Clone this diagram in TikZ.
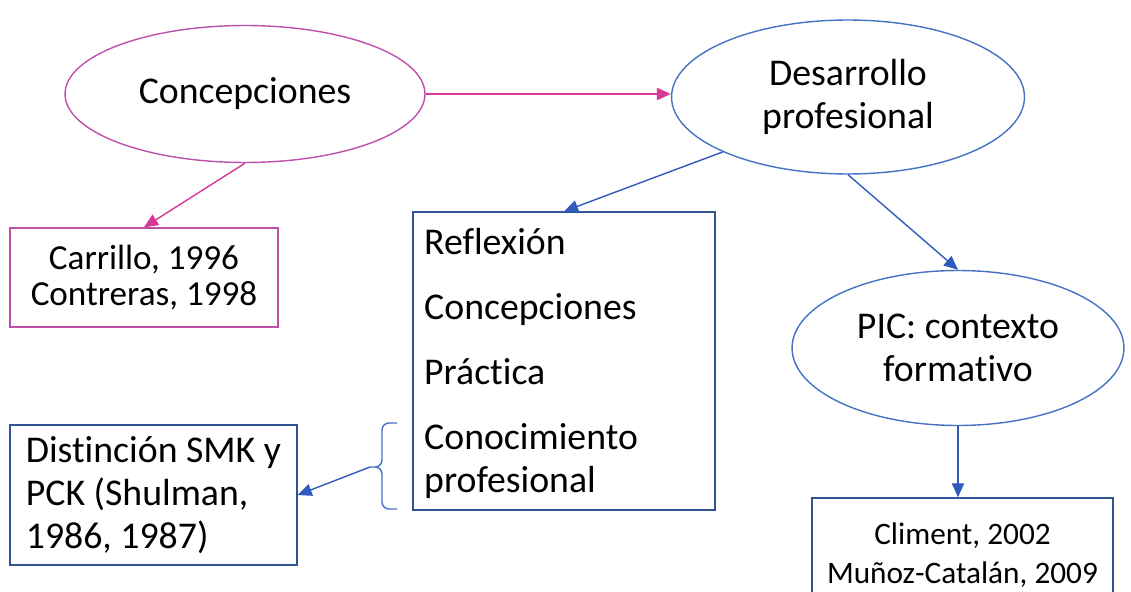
\documentclass[tikz,border=0pt]{standalone}
\usepackage{fontspec}
\setmainfont[Ligatures=NoCommon]{Carlito}
\usetikzlibrary{shapes,arrows.meta}
\definecolor{pinkLine}{RGB}{190,80,170}
\definecolor{pinkArrow}{RGB}{215,55,150}
\definecolor{blueLine}{RGB}{68,114,196}
\definecolor{blueArrow}{RGB}{50,90,190}
\definecolor{blueBox}{RGB}{47,85,151}
\newcommand{\bigtxt}{\fontsize{21.5}{24.5}\selectfont}
\newcommand{\smalltxt}{\fontsize{20}{20.5}\selectfont}
\newcommand{\tinytxt}{\fontsize{17.8}{22}\selectfont}
\tikzset{bubble/.style = {ellipse, draw=blueLine, line width=0.8pt, inner sep=0pt,
    align=center, font=\bigtxt},
  refbox/.style = {rectangle, draw=blueBox, line width=0.8pt, inner sep=0pt},
  link/.style = {-{Triangle[length=8pt,width=7pt]}, line width=0.8pt, draw=blueArrow}}

\begin{document}
\begin{tikzpicture}[x=0.02cm, y=-0.02cm]
  \useasboundingbox (0,0) rectangle (1131,591);

  \node[bubble, draw=pinkLine, minimum width=7.2cm, minimum height=2.74cm] (concep) at (245,94) {Concepciones};
  \node[bubble, minimum width=7.06cm, minimum height=3.08cm] (desarrollo) at (848,97) {Desarrollo\\profesional};

  \node[refbox, draw=pinkLine, minimum width=5.36cm, minimum height=1.98cm, align=center,
    font=\smalltxt] (carrillo) at (144,277.5) {Carrillo, 1996\\Contreras, 1998};

  \node[refbox, minimum width=6.04cm, minimum height=5.96cm] (temas) at (564,361) {};
  \node[anchor=north west, align=left, font=\bigtxt] (temasTxt) at (418,222)
    {Reflexión\\[12.5pt]Concepciones\\[12.5pt]Práctica\\[12.5pt]Conocimiento\\profesional};

  \node[bubble, minimum width=6.64cm, minimum height=3.1cm] (pic) at (958,348) {PIC: contexto\\formativo};

  \node[refbox, minimum width=6.02cm, minimum height=2.28cm, align=center,
    font=\tinytxt] (climent) at (962.5,555) {Climent, 2002\\Muñoz-Catalán, 2009};

  \node[refbox, minimum width=5.74cm, minimum height=2.8cm, align=left,
    font=\bigtxt] (shulman) at (153.5,495) {Distinción SMK y\\PCK (Shulman,\\1986, 1987)};

  % llave sobre el conocimiento profesional
  \coordinate (braceTip) at (370,467);
  \draw[blueLine, line width=0.8pt, rounded corners=4pt]
    (397,423) -- (382,423) -- (382,467) -- (braceTip)
    (braceTip) -- (382,467) -- (382,509) -- (397,509);

  \draw[link, draw=pinkArrow] (concep.east) -- (concep.east -| desarrollo.west);
  \draw[link, draw=pinkArrow] (concep.south) -- (carrillo.north);
  \draw[link] (desarrollo.south west) -- (temas.north);
  \draw[link] (desarrollo.south) -- (pic.north);
  \draw[link] (pic.south) -- (pic.south |- climent.north);
  \draw[link] (braceTip) -- (shulman.east);
\end{tikzpicture}
\end{document}
